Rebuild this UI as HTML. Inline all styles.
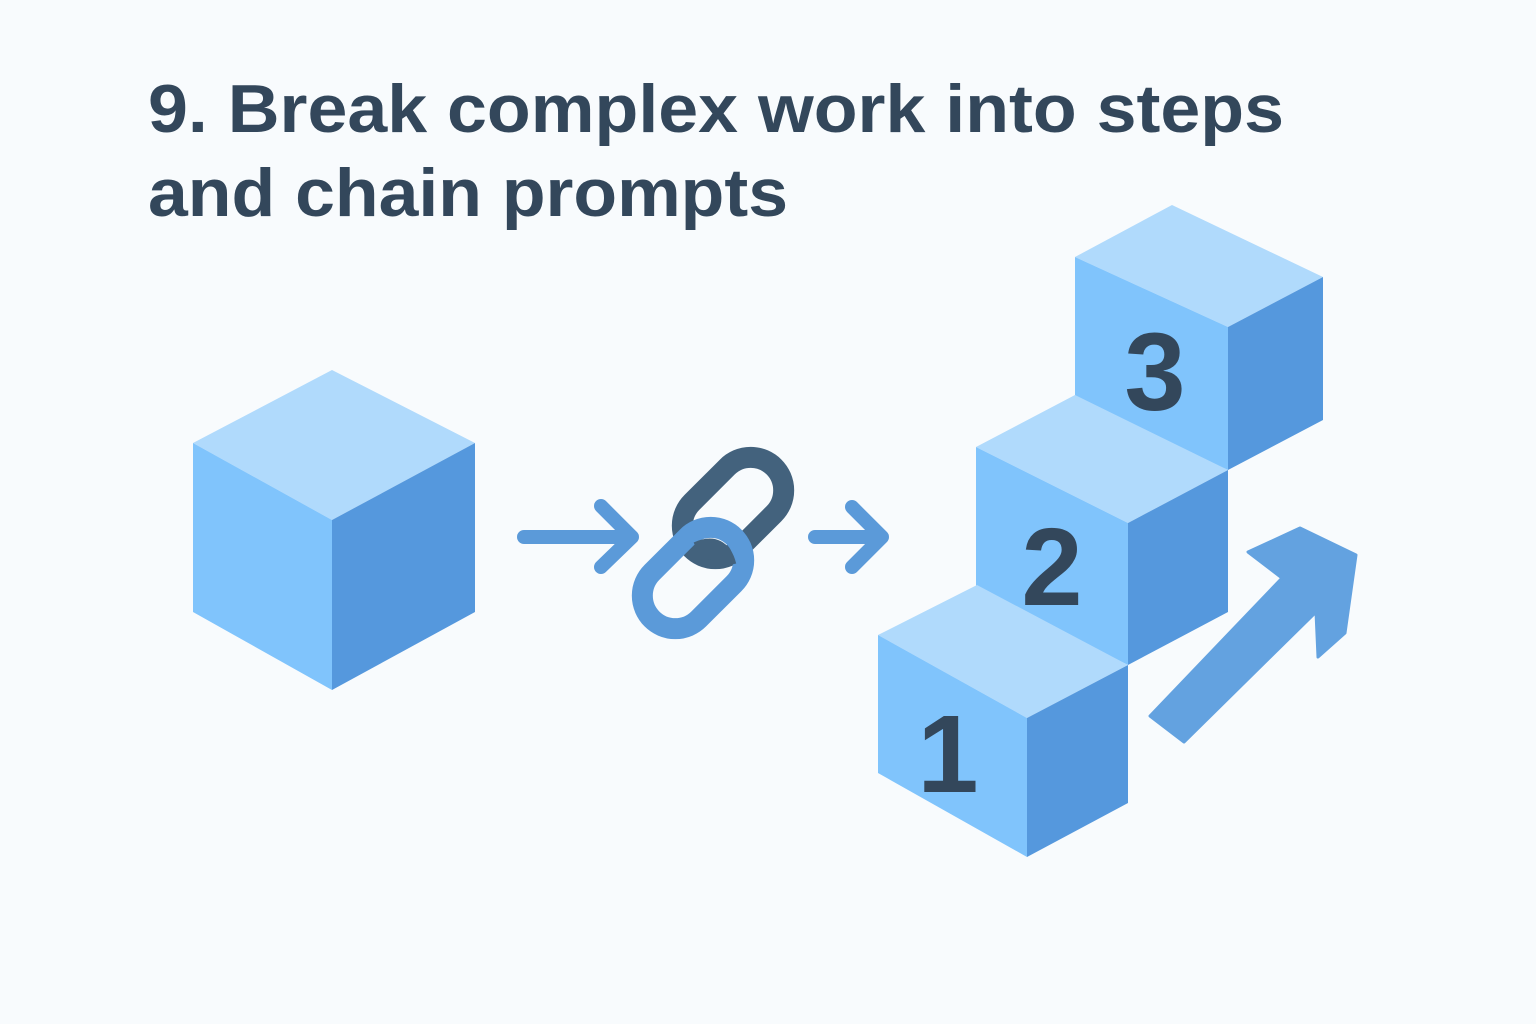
<!DOCTYPE html>
<html><head><meta charset="utf-8"><style>
html,body{margin:0;padding:0;background:#f8fbfd;}
svg{display:block;}
</style></head><body>
<svg width="1536" height="1024" viewBox="0 0 1536 1024" xmlns="http://www.w3.org/2000/svg">
<rect width="1536" height="1024" fill="#f8fbfd"/>
<g font-family="Liberation Sans, sans-serif" font-weight="bold" font-size="68" fill="#33475b">
<text x="148" y="132" textLength="1136" lengthAdjust="spacingAndGlyphs">9. Break complex work into steps</text>
<text x="148" y="216" textLength="640" lengthAdjust="spacingAndGlyphs">and chain prompts</text>
</g>
<polygon points="193,443 332,370 475,443 332,520" fill="#b0dafc"/>
<polygon points="193,443 332,520 332,690 193,612" fill="#80c4fc"/>
<polygon points="332,520 475,443 475,612 332,690" fill="#5598dd"/>
<g stroke="#5b9ad9" stroke-width="14" stroke-linecap="round" stroke-linejoin="round" fill="none">
<path d="M524,537 H632 M601,506 L632,537 L601,567"/>
<path d="M815,537 H882 M852,507 L882,537 L852,567"/>
</g>
<g fill="none" stroke-width="21">
<rect x="-58" y="-33" width="116" height="66" rx="33" transform="translate(733,508) rotate(-45)" stroke="#43627d"/>
<rect x="-58" y="-33" width="116" height="66" rx="33" transform="translate(693,578) rotate(-45)" stroke="#5b9ad9"/>
<path d="M698,552 Q720,542 726,566" stroke="#43627d"/>
</g>
<polygon points="1075,257 1172,205 1323,277 1228,327" fill="#b0dafc"/>
<polygon points="1075,257 1228,327 1228,470 1075,400" fill="#80c4fc"/>
<polygon points="1228,327 1323,277 1323,420 1228,470" fill="#5598dd"/>
<polygon points="976,447 1075,395 1228,470 1128,523" fill="#b0dafc"/>
<polygon points="976,447 1128,523 1128,665 976,590" fill="#80c4fc"/>
<polygon points="1128,523 1228,470 1228,612 1128,665" fill="#5598dd"/>
<polygon points="878,635 977,585 1128,665 1027,718" fill="#b0dafc"/>
<polygon points="878,635 1027,718 1027,857 878,773" fill="#80c4fc"/>
<polygon points="1027,718 1128,665 1128,803 1027,857" fill="#5598dd"/>
<g font-family="Liberation Sans, sans-serif" font-weight="bold" font-size="110" fill="#33475b" text-anchor="middle">
<text x="948" y="792">1</text>
<text x="1052" y="605">2</text>
<text x="1155" y="410">3</text>
</g>
<polygon points="1150,716 1184,742 1316,612 1318,657 1345,633 1356,555 1300,528 1248,552 1282,578" fill="#63a2e0" stroke="#63a2e0" stroke-width="3" stroke-linejoin="round"/>
</svg>
</body></html>
